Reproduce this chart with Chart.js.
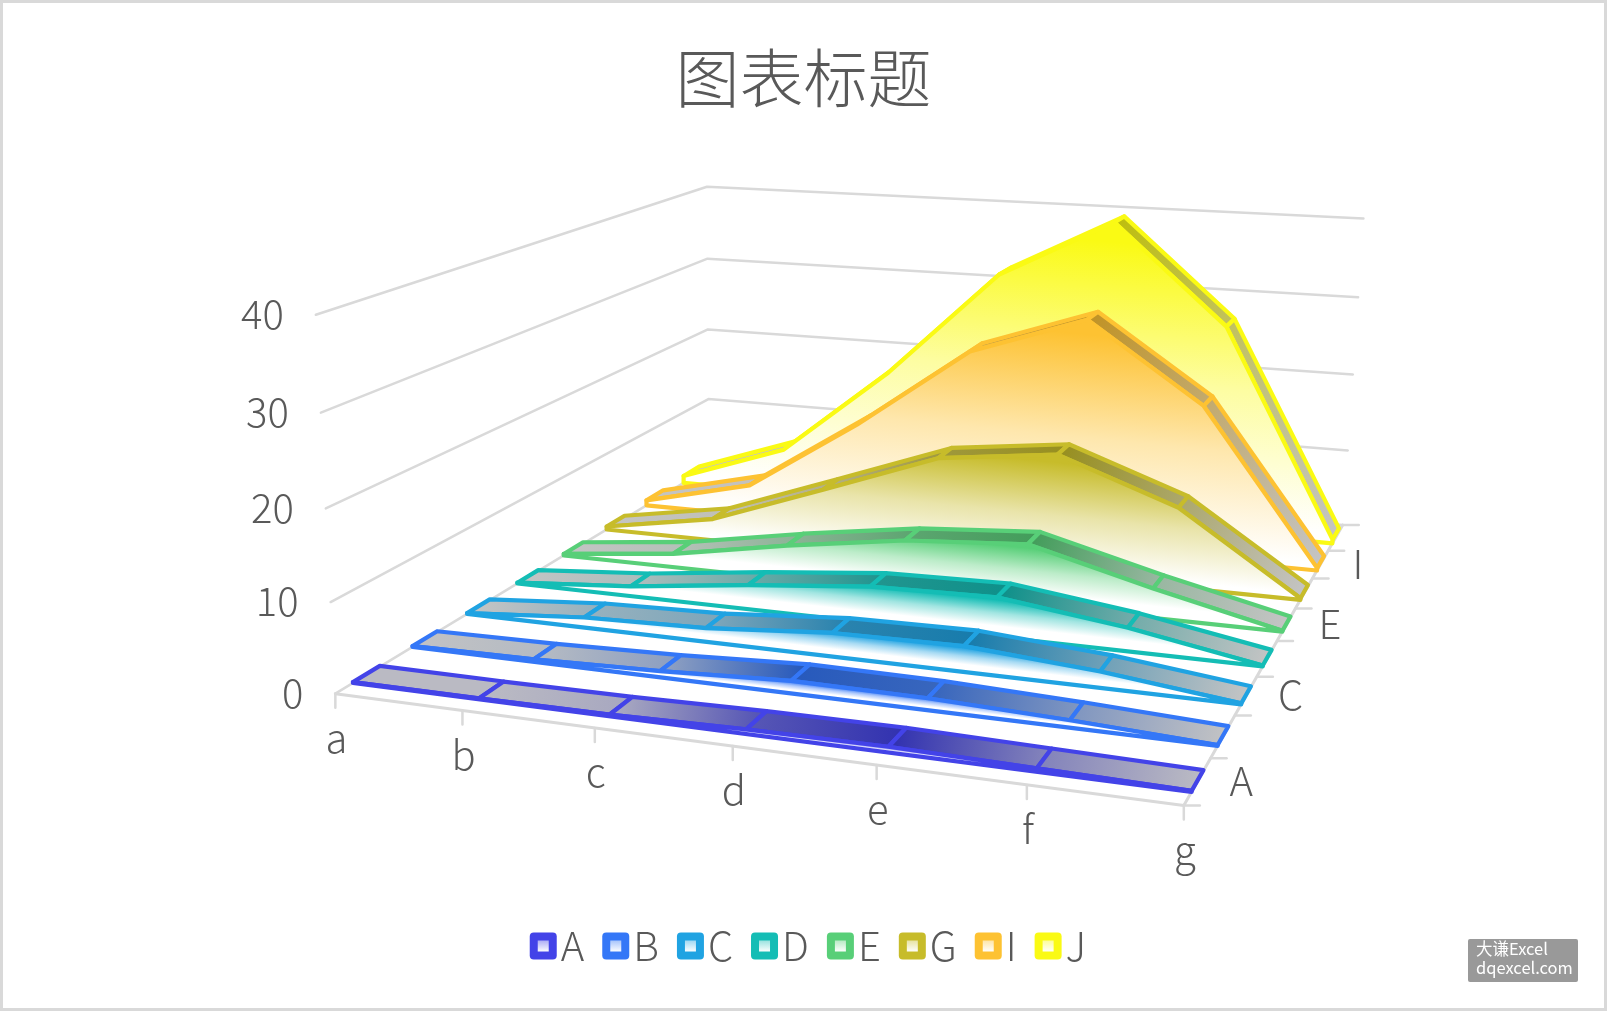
<!DOCTYPE html>
<html>
<head>
<meta charset="utf-8">
<title>图表标题</title>
<script src="https://cdn.jsdelivr.net/npm/chart.js@4/dist/chart.umd.min.js"></script>
<style>
  html, body { margin: 0; padding: 0; background: #fff; overflow: hidden; }
  #frame { position: absolute; left: 0; top: 0; width: 1607px; height: 1011px; box-sizing: border-box; border: 3px solid #d9d9d9; pointer-events: none; }
  canvas { position: absolute; left: 0; top: 0; }
</style>
</head>
<body>
<canvas id="areaChart" width="1607" height="1011"></canvas>
<div id="frame"></div>
<script>
var categories = ["a", "b", "c", "d", "e", "f", "g"];
var seriesNames = ["A", "B", "C", "D", "E", "G", "I", "J"];
var valueTicks = [0, 10, 20, 30, 40];

var seriesA = [0.1, 0.1, 0.2, 0.5, 0.6, 0.35, 0.1];
var seriesB = [0.1, 0.3, 0.7, 1.4, 1.3, 0.8, 0.1];
var seriesC = [0.1, 1.2, 1.6, 2.7, 2.9, 1.8, 0.1];
var seriesD = [0.1, 1.2, 2.9, 4.3, 4.6, 2.7, 0.1];
var seriesE = [0.2, 1.7, 4.2, 6.3, 7.3, 3.5, 0.1];
var seriesG = [0.4, 2.8, 8.0, 13.3, 15.0, 9.8, 0.2];
var seriesI = [0.7, 4.1, 13.5, 24.1, 29.1, 19.4, 0.3];
var seriesJ = [1.0, 6.0, 17.8, 31.8, 39.3, 26.9, 0.5];
var seriesValues = [seriesA, seriesB, seriesC, seriesD, seriesE, seriesG, seriesI, seriesJ];

var seriesColors = ["#4343e8", "#3477f7", "#20a3e2", "#14bdb5", "#58cf78", "#c7bc2a", "#fdc232", "#fafa14"];
var faceFadeStart = [0.3, 0.3, 0.3, 0.28, 0.2, 0.05, 0.03, 0.03];

var gridColor = "#d9d9d9";
var textColor = "#595959";
var textFont = '"Noto Sans CJK SC", "Noto Sans"';
var ribbonHalfDepth = 0.22;

// camera: where the corners of the box (category, depth, value; 0..1 each) land on the page
var cameraPoints = [
  [0, 0, 0, 336, 694],
  [1, 0, 0, 1184, 805],
  [0, 1, 0, 708, 467],
  [1, 1, 0, 1343, 526],
  [0, 1, 1, 708, 187],
  [1, 1, 1, 1363, 218],
  [0, 0, 1, 315, 315],
];

function solveCamera(points) {
  var rows = [];
  points.forEach(function (p) {
    rows.push([p[0], p[1], p[2], 1, 0, 0, 0, 0, -p[3] * p[0], -p[3] * p[1], -p[3] * p[2], p[3]]);
    rows.push([0, 0, 0, 0, p[0], p[1], p[2], 1, -p[4] * p[0], -p[4] * p[1], -p[4] * p[2], p[4]]);
  });
  // normal equations, then plain gaussian elimination
  var n = 11;
  var m = [];
  for (var i = 0; i < n; i++) {
    m.push([]);
    for (var j = 0; j <= n; j++) {
      var sum = 0;
      rows.forEach(function (r) { sum += r[i] * r[j]; });
      m[i].push(sum);
    }
  }
  for (var c = 0; c < n; c++) {
    var pivot = c;
    for (var r = c + 1; r < n; r++) {
      if (Math.abs(m[r][c]) > Math.abs(m[pivot][c])) pivot = r;
    }
    var tmp = m[c]; m[c] = m[pivot]; m[pivot] = tmp;
    for (var r2 = 0; r2 < n; r2++) {
      if (r2 === c) continue;
      var f = m[r2][c] / m[c][c];
      for (var k = c; k <= n; k++) m[r2][k] -= f * m[c][k];
    }
  }
  return m.map(function (row, idx) { return row[n] / row[idx]; });
}

var cam = solveCamera(cameraPoints);

// category index, depth in series units, value -> page position
function project(cat, depth, val) {
  var u = cat / (categories.length - 1);
  var w = depth / seriesNames.length;
  var v = val / valueTicks[valueTicks.length - 1];
  var d = cam[8] * u + cam[9] * w + cam[10] * v + 1;
  return {
    x: (cam[0] * u + cam[1] * w + cam[2] * v + cam[3]) / d,
    y: (cam[4] * u + cam[5] * w + cam[6] * v + cam[7]) / d,
  };
}

function hexToRgb(hex) {
  return [1, 3, 5].map(function (i) { return parseInt(hex.substr(i, 2), 16); });
}

function mix(a, b, t) {
  var c = a.map(function (x, i) { return Math.round(x + (b[i] - x) * t); });
  return "rgb(" + c.join(",") + ")";
}

// white at the floor up to the full colour at the series maximum, bands parallel to the floor
function faceGradient(s) {
  return function (context) {
    var vals = seriesValues[s];
    var top = Math.max.apply(null, vals);
    var z = s + 0.5 - ribbonHalfDepth;
    var a = project(0, z, 0);
    var b = project(categories.length - 1, z, 0);
    var mid = project(3, z, 0);
    var t = project(3, z, top);
    var len = Math.hypot(b.x - a.x, b.y - a.y);
    var nx = -(b.y - a.y) / len;
    var ny = (b.x - a.x) / len;
    var dist = (t.x - mid.x) * nx + (t.y - mid.y) * ny;
    var g = context.chart.ctx.createLinearGradient(mid.x, mid.y, mid.x + nx * dist, mid.y + ny * dist);
    var start = faceFadeStart[s];
    g.addColorStop(0, "#ffffff");
    g.addColorStop(start, "#ffffff");
    g.addColorStop((start + 0.95) / 2, mix([255, 255, 255], hexToRgb(seriesColors[s]), 0.4));
    g.addColorStop(0.95, seriesColors[s]);
    g.addColorStop(1, seriesColors[s]);
    return g;
  };
}

// top of a ribbon segment: grey near the floor, dark series colour near the maximum
function stripGradient(s, i) {
  return function (context) {
    var vals = seriesValues[s];
    var top = Math.max.apply(null, vals);
    var rgb = hexToRgb(seriesColors[s]);
    var dark = rgb.map(function (x) { return x * 0.76; });
    var grey = [196, 196, 196];
    var p0 = project(i, s + 0.5, vals[i]);
    var p1 = project(i + 1, s + 0.5, vals[i + 1]);
    var g = context.chart.ctx.createLinearGradient(p0.x, p0.y, p1.x, p1.y);
    g.addColorStop(0, mix(grey, dark, Math.pow(vals[i] / top, 1.5)));
    g.addColorStop(1, mix(grey, dark, Math.pow(vals[i + 1] / top, 1.5)));
    return g;
  };
}

function shape(points, border, width, fillColor) {
  return {
    data: points,
    showLine: true,
    fill: fillColor ? "shape" : false,
    backgroundColor: fillColor || "transparent",
    borderColor: border,
    borderWidth: width,
    borderJoinStyle: "round",
    borderCapStyle: "round",
    pointRadius: 0,
    clip: false,
  };
}

// painted back to front, reversed below because Chart.js draws dataset 0 last
var layers = [];
var last = categories.length - 1;
var lastDepth = seriesNames.length;

valueTicks.forEach(function (t) {
  layers.push(shape([project(0, 0, t), project(0, lastDepth, t), project(last, lastDepth, t)], gridColor, 2.5));
});
layers.push(shape([project(0, 0, 0), project(last, 0, 0), project(last, lastDepth, 0)], gridColor, 3));
categories.forEach(function (c, i) {
  var p = project(i, 0, 0);
  layers.push(shape([p, { x: p.x, y: p.y + 14 }], gridColor, 2.5));
});
for (var d = 0; d <= lastDepth; d++) {
  var dp = project(last, d, 0);
  layers.push(shape([dp, { x: dp.x + 16, y: dp.y }], gridColor, 2.5));
}

for (var s = seriesValues.length - 1; s >= 0; s--) {
  var vals = seriesValues[s];
  var front = s + 0.5 - ribbonHalfDepth;
  var back = s + 0.5 + ribbonHalfDepth;
  for (var i = 0; i < last; i++) {
    layers.push(shape([
      project(i, front, vals[i]),
      project(i + 1, front, vals[i + 1]),
      project(i + 1, back, vals[i + 1]),
      project(i, back, vals[i]),
      project(i, front, vals[i]),
    ], seriesColors[s], 4.2, stripGradient(s, i)));
  }
  var face = vals.map(function (v, i) { return project(i, front, v); });
  face.push(project(last, front, 0));
  face.push(project(0, front, 0));
  face.push(face[0]);
  layers.push(shape(face, seriesColors[s], 4.2, faceGradient(s)));
}

var textPlugin = {
  id: "textPlugin",
  afterDraw: function (chart) {
    var ctx = chart.ctx;
    ctx.save();
    ctx.fillStyle = textColor;
    ctx.font = "300 40px " + textFont;
    ctx.textBaseline = "middle";

    ctx.textAlign = "right";
    valueTicks.forEach(function (t) {
      var p = project(0, 0, t);
      ctx.fillText(String(t), p.x - 32, p.y - 1);
    });

    ctx.textAlign = "center";
    categories.forEach(function (c, i) {
      var p = project(i, 0, 0);
      ctx.fillText(c, p.x + 1, p.y + 44);
    });

    ctx.textAlign = "left";
    seriesNames.forEach(function (name, k) {
      if (k % 2 !== 0) return;
      var p = project(last, k + 0.5, 0);
      ctx.fillText(name, p.x + 32, p.y - 1);
    });

    // legend
    var swatch = 27;
    var total = 0;
    seriesNames.forEach(function (name) {
      total += swatch + 4 + ctx.measureText(name).width + 18;
    });
    var x = 808 - (total - 18) / 2;
    var ly = 946;
    seriesNames.forEach(function (name, k) {
      ctx.fillStyle = seriesColors[k];
      ctx.beginPath();
      ctx.roundRect(x, ly - swatch / 2, swatch, swatch, 4);
      ctx.fill();
      var g = ctx.createLinearGradient(0, ly - 6, 0, ly + 6);
      g.addColorStop(0, mix(hexToRgb(seriesColors[k]), [255, 255, 255], 0.55));
      g.addColorStop(1, "#ffffff");
      ctx.fillStyle = g;
      ctx.fillRect(x + swatch / 2 - 5.5, ly - 5.5, 11, 11);
      ctx.fillStyle = textColor;
      ctx.fillText(name, x + swatch + 4, ly);
      x += swatch + 4 + ctx.measureText(name).width + 18;
    });

    // site badge
    ctx.fillStyle = "#999999";
    ctx.beginPath();
    ctx.roundRect(1468, 939, 110, 43, 2);
    ctx.fill();
    ctx.fillStyle = "#ffffff";
    ctx.font = "16.5px " + textFont;
    ctx.fillText("大谦Excel", 1476, 949);
    ctx.fillText("dqexcel.com", 1476, 968);
    ctx.restore();
  },
};

new Chart(document.getElementById("areaChart"), {
  type: "scatter",
  data: { datasets: layers.reverse() },
  plugins: [textPlugin],
  options: {
    responsive: false,
    animation: false,
    events: [],
    layout: { padding: 0 },
    scales: {
      x: { type: "linear", display: false, min: 0, max: 1607 },
      y: { type: "linear", display: false, reverse: true, min: 110, max: 1011 },
    },
    plugins: {
      legend: { display: false },
      tooltip: { enabled: false },
      title: {
        display: true,
        text: "图表标题",
        color: textColor,
        font: { family: textFont, size: 64, weight: "300", lineHeight: 1 },
        padding: { top: 46, bottom: 0 },
      },
    },
  },
});
</script>
</body>
</html>
